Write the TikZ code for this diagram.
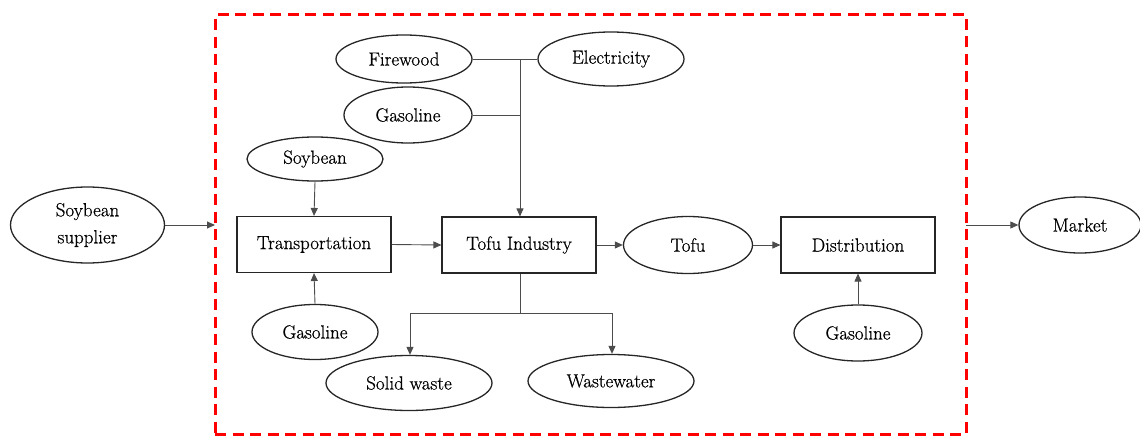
\documentclass[tikz,border=0pt]{standalone}
\usepackage{fontspec}
\setmainfont{Latin Modern Roman}[FakeBold=0.6]
\usetikzlibrary{shapes.geometric,arrows.meta}
\begin{document}
\begin{tikzpicture}[x=1pt,y=-1pt,
  every node/.style={font=\rmfamily\fontsize{19}{27}\selectfont, text=black},
  ell/.style={ellipse, draw=black!85, line width=1.3pt, inner sep=0pt},
  boxn/.style={rectangle, draw=black!85, line width=1.1pt, inner sep=0pt, minimum width=154pt, minimum height=56pt},
  conn/.style={draw=black!70, line width=0.9pt},
  arr/.style={conn, -{Triangle[length=8pt,width=7pt]}}]
\useasboundingbox (0,0) rectangle (1140,436);
% boundary
\node[draw=red, line width=3pt, dash pattern=on 11pt off 6.5pt, inner sep=0pt, minimum width=751pt, minimum height=419pt] (sys) at (590.5,224.5) {};
% nodes
\node[ell, minimum width=154pt, minimum height=76pt, align=center] (sup) at (87.5,225) {Soybean\\supplier};
\node[ell, minimum width=122pt, minimum height=56pt] (mkt) at (1080,225) {Market};
\node[boxn] (trans) at (314,244.5) {Transportation};
\node[boxn] (ind) at (519,245) {Tofu Industry};
\node[boxn] (dist) at (858,245) {Distribution};
\node[ell, minimum width=129pt, minimum height=57pt] (tofu) at (688,245) {Tofu};
\node[ell, minimum width=136pt, minimum height=44pt] (soy) at (315,159) {Soybean};
\node[ell, minimum width=126pt, minimum height=55pt] (gas1) at (315,332) {Gasoline};
\node[ell, minimum width=128pt, minimum height=56pt] (gas3) at (858,333) {Gasoline};
\node[ell, minimum width=136pt, minimum height=48pt] (fire) at (404,59) {Firewood};
\node[ell, minimum width=146pt, minimum height=54pt] (elec) at (611,59) {Electricity};
\node[ell, minimum width=128pt, minimum height=56pt] (gas2) at (408,115) {Gasoline};
\node[ell, minimum width=166pt, minimum height=55pt] (solid) at (409,383) {Solid waste};
\node[ell, minimum width=166pt, minimum height=53pt] (waste) at (611,381) {Wastewater};
% junction coordinates
\coordinate (jtop) at (520,59);
\coordinate (jgas) at (520,115);
\coordinate (jbot) at (520,313);
\coordinate (jl) at (410,313);
\coordinate (jr) at (612,313);
\coordinate (inL) at (215,225);
\coordinate (outR) at (966,225);
% connectors
\draw[arr] (sup.east) -- (inL);
\draw[arr] (outR) -- (mkt.west);
\draw[arr] (soy.south) -- (trans.north);
\draw[arr] (gas1.north) -- (trans.south);
\draw[arr] (trans.east) -- (ind.west);
\draw[arr] (ind.east) -- (tofu.west);
\draw[arr] (tofu.east) -- (dist.west);
\draw[arr] (gas3.north) -- (dist.south);
\draw[conn] (fire.east) -- (elec.west);
\draw[conn] (gas2.east) -- (jgas);
\draw[arr] (jtop) -- (jtop |- ind.north);
\draw[conn] (jbot |- ind.south) -- (jbot);
\draw[conn] (jl) -- (jr);
\draw[arr] (jl) -- (jl |- solid.north);
\draw[arr] (jr) -- (jr |- waste.north);
\end{tikzpicture}
\end{document}
